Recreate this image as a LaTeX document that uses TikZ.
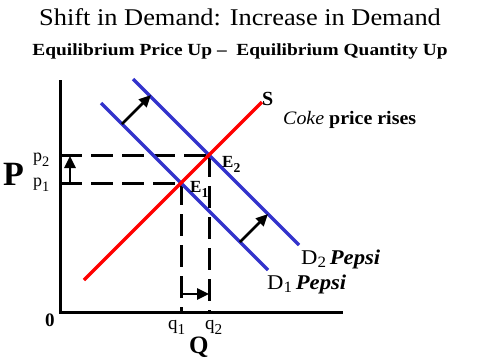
\documentclass[tikz,border=0pt]{standalone}
\usepackage{fontspec}
\setmainfont{Liberation Serif}
\usetikzlibrary{arrows.meta}
\definecolor{dblue}{RGB}{51,51,204}
\newcommand{\sbx}[1]{\raisebox{-0.3em}{\scalebox{0.8}{#1}}}
\newcommand{\sbd}[1]{\raisebox{-0.18em}{\scalebox{0.75}{#1}}}
\begin{document}
\begin{tikzpicture}[x=1pt,y=-1pt,
  axisline/.style={line width=3pt},
  supplyline/.style={line width=3.5pt,red},
  demandline/.style={line width=3.5pt,dblue},
  guide/.style={line width=3pt,dash pattern=on 22pt off 9pt},
  shiftarrow/.style={line width=2.6pt,-{Triangle[length=12pt,width=11pt]}},
  lbl/.style={inner sep=0pt,anchor=base west}]
\useasboundingbox (0,0) rectangle (480,360);
% titles
\node[inner sep=0pt,anchor=base,font=\fontsize{24}{26}\selectfont] (title) at (240,25) {\scalebox{1.1}[1]{Shift in Demand: Increase in Demand}};
\node[inner sep=0pt,anchor=base,font=\bfseries\fontsize{17}{18}\selectfont] (sub) at (240,55) {\scalebox{1.14}[1]{Equilibrium Price Up --\ \ Equilibrium Quantity Up}};
% coordinates
\coordinate (top) at (60,80);
\coordinate (O) at (60,312);
\coordinate (xend) at (343,312);
\coordinate (s0) at (84,280);
\coordinate (s1) at (262,102);
\coordinate (d1a) at (101,103);
\coordinate (d1b) at (268,270);
\coordinate (d2a) at (133,79);
\coordinate (d2b) at (299,245);
\coordinate (E1) at (181,183);
\coordinate (E2) at (209,155);
\coordinate (yp1) at (60,183);
\coordinate (yp2) at (60,155);
\coordinate (xq1) at (181,312);
\coordinate (xq2) at (209,312);
% axes
\draw[axisline] (top) -- (O) -- (xend);
% dashed guides
\draw[guide] (yp2) -- (E2);
\draw[guide] (yp1) -- (E1);
\draw[guide] (E1) -- (xq1);
\draw[guide] (E2) -- (xq2);
% curves
\draw[demandline] (d1a) -- (d1b);
\draw[demandline] (d2a) -- (d2b);
\draw[supplyline] (s0) -- (s1);
% shift arrows
\coordinate (a1s) at (122,124);
\coordinate (a1e) at (151,95);
\coordinate (a2s) at (240,242);
\coordinate (a2e) at (268,214);
\coordinate (pa) at (70,183);
\coordinate (pb) at (70,156);
\coordinate (qa) at (181,294);
\coordinate (qb) at (209,294);
\draw[shiftarrow] (a1s) -- (a1e);
\draw[shiftarrow] (a2s) -- (a2e);
\draw[shiftarrow] (pa) -- (pb);
\draw[shiftarrow] (qa) -- (qb);
% labels
\node[lbl,font=\bfseries\fontsize{34}{36}\selectfont] (P) at (3,185) {P};
\node[lbl,font=\fontsize{18}{20}\selectfont] (p2) at (33,161) {p\sbx{2}};
\node[lbl,font=\fontsize{18}{20}\selectfont] (p1) at (33,186) {p\sbx{1}};
\node[lbl,font=\bfseries\fontsize{17}{18}\selectfont] (E2l) at (222,167) {E\sbx{2}};
\node[lbl,font=\bfseries\fontsize{17}{18}\selectfont] (E1l) at (190,192) {E\sbx{1}};
\node[lbl,font=\bfseries\fontsize{20}{22}\selectfont] (S) at (262,105) {S};
\node[lbl,font=\fontsize{19}{21}\selectfont] (coke) at (283,124) {\scalebox{1.05}[1]{\textit{Coke} \textbf{price rises}}};
\node[lbl,font=\fontsize{21}{23}\selectfont] (D2) at (301,264) {\scalebox{1.08}[1]{D\sbd{2}\,\textbf{\textit{Pepsi}}}};
\node[lbl,font=\fontsize{21}{23}\selectfont] (D1) at (267,289) {\scalebox{1.08}[1]{D\sbd{1}\,\textbf{\textit{Pepsi}}}};
\node[lbl,font=\bfseries\fontsize{19}{21}\selectfont] (zero) at (45,326) {0};
\node[lbl,font=\fontsize{19}{21}\selectfont] (q1) at (168,329) {q\sbx{1}};
\node[lbl,font=\fontsize{19}{21}\selectfont] (q2) at (205,329) {q\sbx{2}};
\node[lbl,font=\bfseries\fontsize{25}{27}\selectfont] (Q) at (189,353) {Q};
\end{tikzpicture}
\end{document}
